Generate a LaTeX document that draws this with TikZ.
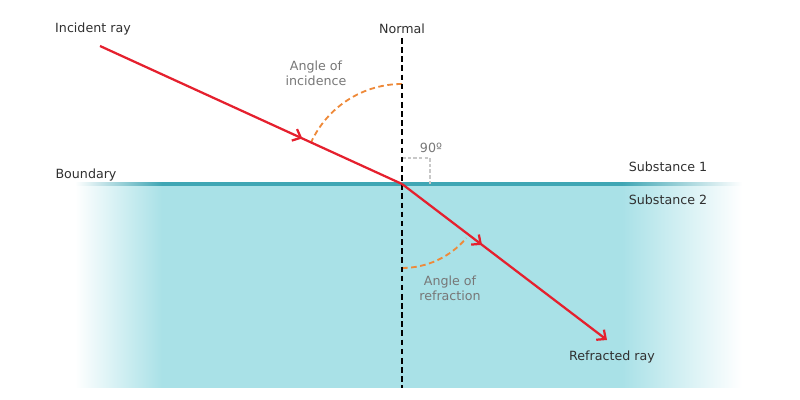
\documentclass[tikz,border=0pt]{standalone}
\usepackage{fontspec}
\setmainfont{DejaVu Sans}
\usetikzlibrary{arrows.meta,decorations.markings}
\definecolor{raycol}{HTML}{E5202E}
\definecolor{arccol}{HTML}{EE8A3A}
\definecolor{watercol}{HTML}{A9E1E7}
\definecolor{linecol}{HTML}{3FA6B4}
\definecolor{softgray}{HTML}{777777}
\definecolor{darktext}{HTML}{303030}
\definecolor{boxgray}{HTML}{C8C8C8}
% the path is fitted to 25bp--75bp of the shading
\pgfdeclarehorizontalshading{waterfade}{100bp}{color(0bp)=(white); color(25bp)=(white); color(31.5bp)=(watercol); color(66bp)=(watercol); color(75bp)=(white); color(100bp)=(white)}
\pgfdeclarehorizontalshading{linefade}{100bp}{color(0bp)=(white); color(25bp)=(white); color(31.5bp)=(linecol); color(66bp)=(linecol); color(75bp)=(white); color(100bp)=(white)}
\tikzset{
	txt/.style={font=\fontsize{9}{10.5}\selectfont, text=darktext, inner sep=0pt},
	greytxt/.style={txt, text=softgray, align=center},
	ray/.style={raycol, line width=1.6pt},
	barb/.style={-{Straight Barb[length=5pt,width=9pt,line width=1.6pt]}},
	midarrow/.style={postaction={decorate}, decoration={markings,
		mark=at position #1 with {\arrow{Straight Barb[length=5pt,width=9pt,line width=1.6pt]}}}},
	anglearc/.style={arccol, line width=1.3pt, dash pattern=on 4pt off 2.5pt},
	normalline/.style={black, line width=1.2pt, dash pattern=on 4pt off 2.5pt}
}
\begin{document}
\begin{tikzpicture}[x=0.025cm, y=0.025cm]
	\useasboundingbox (0,0) rectangle (800,400);
	
	% Substance 2
	\shade[shading=waterfade] (75,12) rectangle (742,215);
	
	% Boundary
	\shade[shading=linefade] (75,214.7) rectangle (742,217.3);
	
	% Points
	\coordinate (O) at (402,216);
	\coordinate (src) at (100,354);
	\coordinate (dst) at (607,60);
	\coordinate (ntop) at (402,362);
	\coordinate (nbot) at (402,12);
	
	% Right angle
	\draw[boxgray, line width=0.8pt, dash pattern=on 2.5pt off 1.5pt] (402,242) -- (430,242) -- (430,216);
	
	% Angles
	\draw[anglearc] (O) ++(90:100) arc[start angle=90, end angle=155.4, radius=100];
	\draw[anglearc] (O) ++(-90:84) arc[start angle=-90, end angle=-40, radius=84];
	
	% Normal
	\draw[normalline] (ntop) -- (nbot);
	
	% Rays
	\draw[ray, midarrow=0.67] (src) -- (O);
	\draw[ray, barb, midarrow=0.39] (O) -- (dst);
	
	% Labels
	\node[txt] (lincident) at (93,371) {Incident ray};
	\node[txt] (lnormal) at (402,371) {Normal};
	\node[greytxt] (lai) at (316,327) {Angle of\\incidence};
	\node[greytxt] (lright) at (431,252) {90º};
	\node[txt] (lboundary) at (86,225) {Boundary};
	\node[txt] (lsub1) at (668,233) {Substance 1};
	\node[txt] (lsub2) at (668,200) {Substance 2};
	\node[greytxt] (lar) at (450,112) {Angle of\\refraction};
	\node[txt] (lrefracted) at (612,43) {Refracted ray};
\end{tikzpicture}
\end{document}
